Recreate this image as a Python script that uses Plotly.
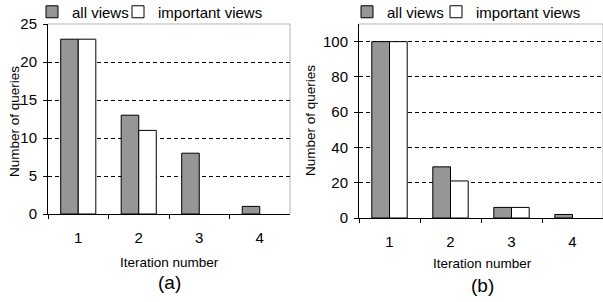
import plotly.graph_objects as go

W, H = 603, 302

categories = ["1", "2", "3", "4"]
all_views_a = [23, 13, 8, 1]
important_views_a = [23, 11, 0, 0]
all_views_b = [100, 29, 6, 2]
important_views_b = [100, 21, 6, 0]

series_names = ["all views", "important views"]
y_title = "Number of queries"
x_title = "Iteration number"
captions = ["(a)", "(b)"]

FONT = "Liberation Sans, Arial, sans-serif"
GRAY = "#969696"


def px(x):
    return x / W


def py(y):
    return 1 - y / H


def nz(vals):
    # zero-height bars are not drawn in the original
    return [v if v else None for v in vals]


fig = go.Figure()

for xa, ya, legs, vals_all, vals_imp in [
    ("x", "y", ("legend", "legend2"), all_views_a, important_views_a),
    ("x2", "y2", ("legend3", "legend4"), all_views_b, important_views_b),
]:
    fig.add_trace(go.Bar(x=categories, y=nz(vals_all), name=series_names[0],
                         marker=dict(color=GRAY, line=dict(color="black", width=1)),
                         xaxis=xa, yaxis=ya, legend=legs[0], showlegend=True))
    fig.add_trace(go.Bar(x=categories, y=nz(vals_imp), name=series_names[1],
                         marker=dict(color="white", line=dict(color="black", width=1)),
                         xaxis=xa, yaxis=ya, legend=legs[1], showlegend=True))

common_x = dict(type="category", tickson="boundaries", ticks="outside", ticklen=4,
                tickcolor="black", showline=True, linecolor="black", linewidth=1,
                showgrid=False, zeroline=False, automargin=False,
                tickfont=dict(size=15, color="black", family=FONT),
                ticklabelstandoff=10, fixedrange=True)
common_y = dict(ticks="outside", ticklen=4, tickcolor="black", showline=True,
                linecolor="black", linewidth=1, showgrid=True, gridcolor="black",
                gridwidth=1, griddash="4px,3px", zeroline=False, automargin=False,
                tickfont=dict(size=15, color="black", family=FONT),
                ticklabelstandoff=3, fixedrange=True)

# panel geometry (pixels)
A = dict(x0=48, x1=290, y0=214, y1=24)
B = dict(x0=359, x1=603, y0=218, y1=24)

legend_common = dict(orientation="h", xanchor="left", y=py(12), yanchor="middle",
                     font=dict(size=15, family=FONT, color="black"),
                     bgcolor="rgba(0,0,0,0)", borderwidth=0, itemclick=False,
                     itemdoubleclick=False, tracegroupgap=0, visible=True)

fig.update_layout(
    template="none",
    width=W, height=H,
    margin=dict(l=0, r=0, t=0, b=0, pad=0, autoexpand=False),
    showlegend=True,
    paper_bgcolor="white", plot_bgcolor="white",
    font=dict(family=FONT, color="black"),
    barmode="group", bargap=0.42, bargroupgap=0,
    xaxis=dict(domain=[px(A["x0"]), px(A["x1"])], anchor="y", **common_x),
    yaxis=dict(domain=[py(A["y0"]), py(A["y1"])], anchor="x", range=[0, 25], dtick=5, **common_y),
    xaxis2=dict(domain=[px(B["x0"]), px(B["x1"])], anchor="y2", **common_x),
    yaxis2=dict(domain=[py(B["y0"]), py(B["y1"])], anchor="x2", range=[0, 110], dtick=20, **common_y),
    legend=dict(x=px(32), **legend_common),
    legend2=dict(x=px(118), **legend_common),
    legend3=dict(x=px(347), **legend_common),
    legend4=dict(x=px(436), **legend_common),
)

# light gray plot-area frame (top and right)
for xr, yr in [("x domain", "y domain"), ("x2 domain", "y2 domain")]:
    fig.add_shape(type="line", xref=xr, yref=yr, x0=0, x1=1, y0=1, y1=1,
                  line=dict(color="#b4b4b4", width=1), layer="below")
    fig.add_shape(type="line", xref=xr, yref=yr, x0=1, x1=1, y0=0, y1=1,
                  line=dict(color="#b4b4b4", width=1), layer="below")

# titles and captions
ann = []
for cx, ty_center in [(14, 122), (311, 121)]:
    ann.append(dict(text=y_title, x=px(cx), y=py(ty_center), xref="paper", yref="paper",
                    textangle=-90, showarrow=False, xanchor="center", yanchor="middle",
                    font=dict(size=13.5, family=FONT)))
for xc, yt, yc, cap in [((A["x0"] + A["x1"]) / 2, 262, 282, captions[0]),
                        ((B["x0"] + 606) / 2, 263, 285, captions[1])]:
    ann.append(dict(text=x_title, x=px(xc), y=py(yt), xref="paper", yref="paper",
                    showarrow=False, xanchor="center", yanchor="middle",
                    font=dict(size=13.5, family=FONT)))
    ann.append(dict(text=cap, x=px(xc), y=py(yc), xref="paper", yref="paper",
                    showarrow=False, xanchor="center", yanchor="middle",
                    font=dict(size=19, family=FONT)))
fig.update_layout(annotations=ann)

fig.write_html("out.html", config={"displayModeBar": False},
               post_script="document.body.style.margin='0';document.body.style.overflow='hidden';")
